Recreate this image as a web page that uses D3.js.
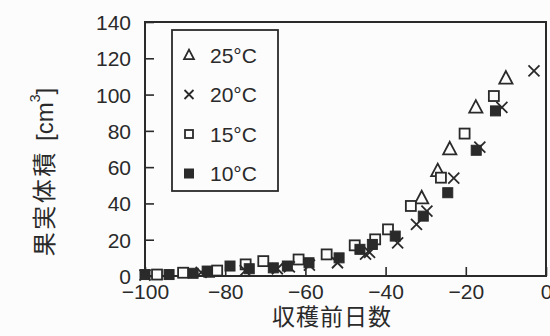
<!DOCTYPE html>
<html>
<head>
<meta charset="utf-8">
<script src="https://cdn.jsdelivr.net/npm/d3@7"></script>
<style>
  body { margin:0; background:#fcfcfc; }
  svg { display:block; }
</style>
</head>
<body>
<svg width="550" height="336"></svg>
<script>
// data
var xTicks = [-100,-80,-60,-40,-20,0];
var yTicks = [0,20,40,60,80,100,120,140];

var legendLabels = ["25°C","20°C","15°C","10°C"];

var days25 = [-31,-27,-24,-17.5,-10];
var vol25  = [43,58,70,93,109];

var days20 = [-100,-86,-75,-67,-64,-59,-52,-45,-44,-37,-32.3,-29.7,-23,-16.5,-11,-3];
var vol20  = [0.5,2,3,4,5,6,7.3,12,13,18.3,28.5,35.8,54,71,93,113];

var days15 = [-97,-90.5,-84,-82,-74.9,-70.5,-61.7,-54.7,-47.7,-42.6,-39.4,-33.7,-26.2,-20.3,-13];
var vol15  = [0.8,1.8,2.3,3,6.4,8.2,9.1,11.9,16.9,20.2,25.7,38.6,54.2,78.5,99.2];

var days10 = [-100,-94,-88,-84.5,-78.8,-74,-68,-64.5,-59.1,-51.6,-46.4,-43.3,-37.6,-30.6,-24.5,-17.4,-12.6];
var vol10  = [0.8,0.8,1.5,2.7,5.5,4,4.5,5.5,7.3,10,14.7,17.4,22,33,45.9,69.3,91];

var ink = "#2a2a2a";
var paper = "#fcfcfc";
var svg = d3.select("svg");
var plot = {left:145, right:546, top:22, bottom:276};

var xScale = d3.scaleLinear().domain([-100,0]).range([plot.left,plot.right]);
var yScale = d3.scaleLinear().domain([0,140]).range([plot.bottom,plot.top]);

// axes with inward ticks
var xAxis = d3.axisBottom(xScale).tickValues(xTicks).tickSizeInner(-9).tickSizeOuter(0).tickPadding(12);
var yAxis = d3.axisLeft(yScale).tickValues(yTicks).tickSizeInner(-9).tickSizeOuter(0).tickPadding(14);

var gx = svg.append("g").attr("transform","translate(0,"+plot.bottom+")").call(xAxis);
var gy = svg.append("g").attr("transform","translate("+plot.left+",0)").call(yAxis);
[gx,gy].forEach(function(g){
  g.select(".domain").remove();
  g.selectAll("line").attr("stroke",ink).attr("stroke-width",1.6);
  g.selectAll("text").attr("fill",ink)
    .style("font-family","'Liberation Sans', Arial, sans-serif").style("font-size","21px");
});
gy.selectAll("text").attr("dy","0.36em");
gx.selectAll("text").attr("y",8).attr("dy","0.72em");

// frame
svg.append("rect")
  .attr("x",plot.left).attr("y",plot.top)
  .attr("width",plot.right-plot.left).attr("height",plot.bottom-plot.top)
  .attr("fill","none").attr("stroke",ink).attr("stroke-width",2);

// marker drawing
function triangle(g,s){
  g.append("path").attr("d","M0,"+(-s*0.6)+"L"+(s*0.55)+","+(s*0.45)+"L"+(-s*0.55)+","+(s*0.45)+"Z")
    .attr("fill",paper).attr("stroke",ink).attr("stroke-width",1.8);
}
function cross(g,s){
  var h = s/2;
  g.append("path").attr("d","M"+(-h)+","+(-h)+"L"+h+","+h+"M"+(-h)+","+h+"L"+h+","+(-h))
    .attr("stroke",ink).attr("stroke-width",1.8).attr("fill","none");
}
function openSquare(g,s){
  g.append("rect").attr("x",-s/2).attr("y",-s/2).attr("width",s).attr("height",s)
    .attr("fill",paper).attr("stroke",ink).attr("stroke-width",1.8);
}
function fillSquare(g,s){
  g.append("rect").attr("x",-s/2).attr("y",-s/2).attr("width",s).attr("height",s)
    .attr("fill",ink).attr("stroke",ink).attr("stroke-width",1);
}

function drawSeries(days,vols,fn,size){
  var gs = svg.append("g").selectAll("g")
    .data(d3.range(days.length))
    .enter()
    .append("g")
    .attr("transform",function(i){ return "translate("+xScale(days[i])+","+yScale(vols[i])+")"; });
  gs.each(function(){ fn(d3.select(this),size); });
}
drawSeries(days25,vol25,triangle,12);
drawSeries(days15,vol15,openSquare,10);
drawSeries(days20,vol20,cross,11);
drawSeries(days10,vol10,fillSquare,10);

// legend
var lg = svg.append("g");
lg.append("rect").attr("x",172).attr("y",30).attr("width",106).attr("height",161)
  .attr("fill",paper).attr("stroke",ink).attr("stroke-width",1.8);
var legendFns = [triangle,cross,openSquare,fillSquare];
var rows = lg.selectAll(".row")
  .data(legendLabels)
  .enter()
  .append("g")
  .attr("transform",function(d,i){ return "translate(189,"+(55+i*39.5)+")"; });
rows.each(function(d,i){ legendFns[i](d3.select(this),i==2?8:9); });
rows.append("text")
  .attr("x",21).attr("dy","0.36em")
  .attr("fill",ink)
  .style("font-family","'Liberation Sans', Arial, sans-serif").style("font-size","21px")
  .text(function(d){ return d; });

// axis titles
var yt = svg.append("text")
  .attr("transform","translate(44,172) rotate(-90)")
  .attr("text-anchor","middle").attr("dominant-baseline","central")
  .attr("fill",ink)
  .style("font-family","'Liberation Sans', 'Noto Sans CJK JP', sans-serif")
  .style("font-size","24px");
yt.append("tspan").style("letter-spacing","2.5px").text("果実体積 ");
yt.append("tspan").text("[cm");
yt.append("tspan").attr("dy",-9).style("font-size","14px").text("3");
yt.append("tspan").attr("dy",9).text("]");

svg.append("text")
  .attr("x",332).attr("y",325)
  .attr("text-anchor","middle")
  .attr("fill",ink)
  .style("font-family","'Noto Sans CJK JP', sans-serif")
  .style("font-size","23px").style("letter-spacing","1px")
  .text("収穫前日数");
</script>
</body>
</html>
